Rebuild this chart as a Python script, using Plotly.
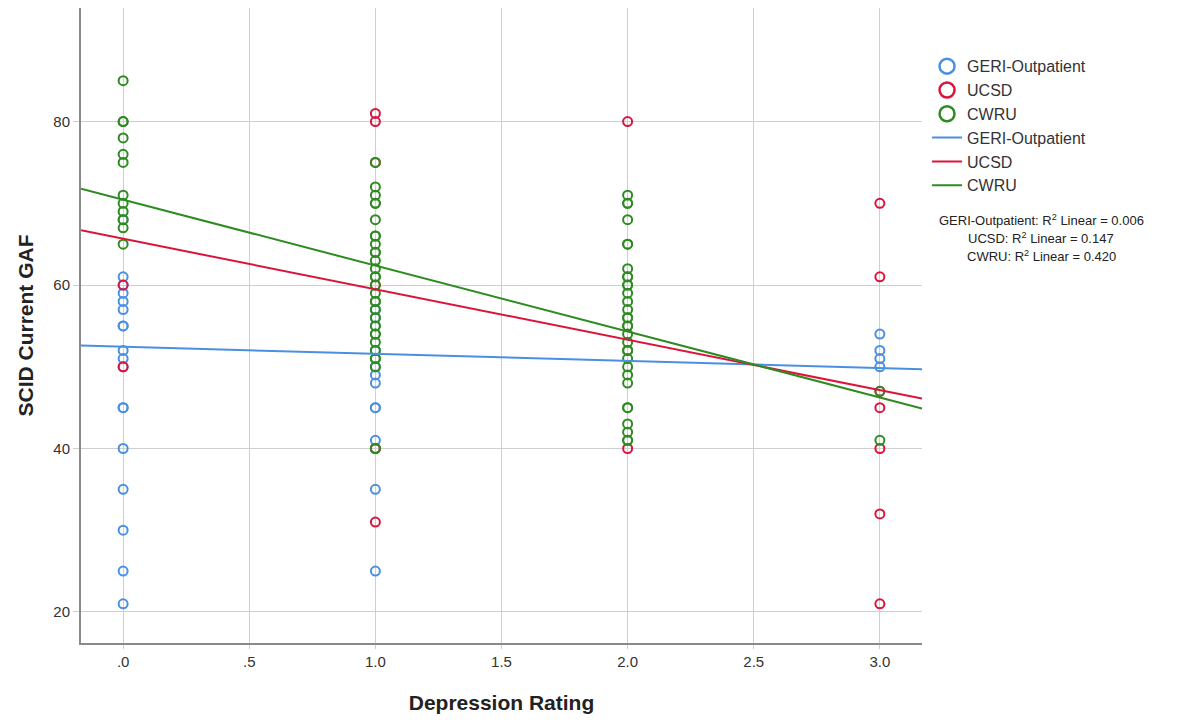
import plotly.graph_objects as go

# ---- data ----
geri_x = [0]*18 + [1]*13 + [3]*4
geri_y = [68, 61, 60, 59, 58, 57, 55, 55, 52, 51, 50, 45, 45, 40, 35, 30, 25, 21,
          57, 56, 55, 52, 50, 49, 48, 45, 45, 41, 40, 35, 25,
          54, 52, 51, 50]

ucsd_x = [0]*2 + [1]*6 + [2]*2 + [3]*7
ucsd_y = [60, 50,
          81, 80, 75, 60, 40, 31,
          80, 40,
          70, 61, 47, 45, 40, 32, 21]

cwru_x = [0]*12 + [1]*30 + [2]*32 + [3]*2
cwru_y = [85, 80, 80, 78, 76, 75, 71, 70, 69, 68, 67, 65,
          75, 72, 71, 70, 70, 68, 66, 66, 65, 64, 64, 63, 62, 61, 61, 60, 59, 58, 58,
          57, 56, 55, 54, 54, 53, 52, 51, 51, 50, 40,
          71, 70, 70, 68, 65, 65, 62, 61, 61, 60, 60, 59, 58, 57, 56, 56, 55, 55, 54,
          53, 52, 52, 51, 50, 49, 48, 45, 45, 43, 42, 41, 41,
          47, 41]

# fit-line end values read at the axis ends
fit_x = [-0.167, 3.167]
geri_fit = [52.6, 49.7]
ucsd_fit = [66.7, 46.1]
cwru_fit = [71.8, 44.9]

x_ticks = [0, 0.5, 1, 1.5, 2, 2.5, 3]
x_tick_labels = [".0", ".5", "1.0", "1.5", "2.0", "2.5", "3.0"]
y_ticks = [20, 40, 60, 80]

names = ["GERI-Outpatient", "UCSD", "CWRU"]
colors = ["#4a90e2", "#dc143c", "#2e8b22"]
r2_text = ["GERI-Outpatient: R<sup>2</sup> Linear = 0.006",
           "UCSD: R<sup>2</sup> Linear = 0.147",
           "CWRU: R<sup>2</sup> Linear = 0.420"]

fig = go.Figure()
for nm, col, xs, ys in zip(names, colors, [geri_x, ucsd_x, cwru_x], [geri_y, ucsd_y, cwru_y]):
    fig.add_trace(go.Scatter(
        x=xs, y=ys, mode="markers", name=nm, showlegend=False,
        marker=dict(symbol="circle-open", size=9, color=col, line=dict(width=2, color=col)),
    ))
# legend entries for the point series (larger symbols, as in the reference legend)
for nm, col in zip(names, colors):
    fig.add_trace(go.Scatter(
        x=[None], y=[None], mode="markers", name=nm,
        marker=dict(symbol="circle-open", size=15, color=col, line=dict(width=2.5, color=col)),
    ))
for nm, col, fy in zip(names, colors, [geri_fit, ucsd_fit, cwru_fit]):
    fig.add_trace(go.Scatter(
        x=fit_x, y=fy, mode="lines", name=nm,
        line=dict(color=col, width=2),
    ))

fig.update_layout(
    width=1181, height=721,
    paper_bgcolor="white", plot_bgcolor="white",
    margin=dict(l=81, r=259, t=8, b=78),
    font=dict(family="Liberation Sans, Arial, sans-serif", color="#222"),
    legend=dict(
        x=1.006, y=0.935, xanchor="left", yanchor="top",
        font=dict(size=16, color="#333"),
        tracegroupgap=0, itemwidth=30,
        bgcolor="rgba(0,0,0,0)",
    ),
    showlegend=True,
)

fig.update_xaxes(
    range=[-0.167, 3.167],
    tickvals=x_ticks, ticktext=x_tick_labels,
    tickfont=dict(size=15, color="#333"),
    showgrid=True, gridcolor="#cfcfcf", gridwidth=1,
    showline=True, linecolor="#8a8a8a", linewidth=2,
    ticks="outside", ticklen=4, tickcolor="#cfcfcf",
    zeroline=False,
    title=dict(text="<b>Depression Rating</b>", font=dict(size=21, color="#222"), standoff=26),
)
fig.update_yaxes(
    range=[16.2, 93.9],
    tickvals=y_ticks,
    tickfont=dict(size=15, color="#333"),
    showgrid=True, gridcolor="#cfcfcf", gridwidth=1,
    showline=True, linecolor="#8a8a8a", linewidth=2,
    ticks="outside", ticklen=6, tickcolor="#cfcfcf",
    zeroline=False,
    title=dict(text="<b>SCID Current GAF</b>", font=dict(size=21, color="#222"), standoff=14),
)

for i, t in enumerate(r2_text):
    fig.add_annotation(
        text=t, xref="paper", yref="paper",
        x=1.142, y=(643 - 220 - i * 18) / 635, xanchor="center", yanchor="middle",
        showarrow=False, font=dict(size=13, color="#222"),
    )

fig.write_html("out.html")
